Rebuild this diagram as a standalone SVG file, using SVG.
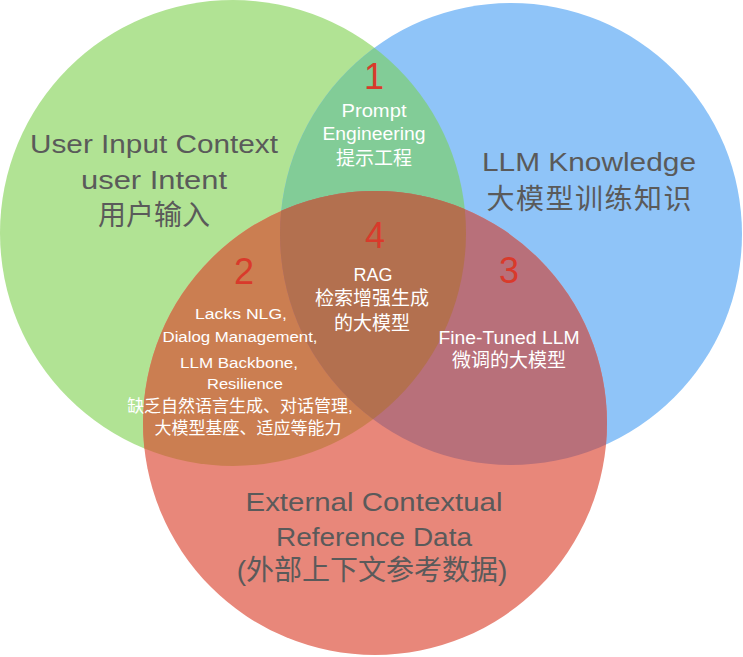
<svg xmlns="http://www.w3.org/2000/svg" width="743" height="657" viewBox="0 0 743 657">
<style>
text{font-family:"Liberation Sans","Noto Sans CJK SC",sans-serif;text-anchor:middle}
.big{fill:#5a5a5a;font-size:26px}
.bigcjk{fill:#5a5a5a;font-size:28px}
.num{fill:#d93a2b;font-size:36px}
.w{fill:#ffffff;font-size:18px}
.wcjk{fill:#ffffff;font-size:19px}
.s{fill:#ffffff;font-size:15.5px}
.scjk{fill:#ffffff;font-size:17px}
</style>
<defs>
<clipPath id="cG"><circle cx="233" cy="233" r="233"/></clipPath>
<clipPath id="cB"><circle cx="511" cy="234" r="231"/></clipPath>
</defs>
<rect width="743" height="657" fill="#ffffff"/>
<g id="circle-user-input">
<circle cx="233" cy="233" r="233" fill="#b1e394"/>
</g>
<g id="circle-llm-knowledge">
<circle cx="511" cy="234" r="231" fill="#8fc4f8"/>
</g>
<g id="circle-external-data">
<circle cx="375" cy="423" r="232" fill="#e8877a"/>
</g>
<g id="overlap-1">
<circle cx="511" cy="234" r="231" fill="#82cc97" clip-path="url(#cG)"/>
</g>
<g id="overlap-2">
<circle cx="375" cy="423" r="232" fill="#cb7e51" clip-path="url(#cG)"/>
</g>
<g id="overlap-3">
<circle cx="375" cy="423" r="232" fill="#b8707a" clip-path="url(#cB)"/>
</g>
<g id="overlap-4">
<g clip-path="url(#cG)"><circle cx="375" cy="423" r="232" fill="#b3704f" clip-path="url(#cB)"/></g>
</g>
<g id="label-user-input">
<text class="big" x="154" y="153" textLength="248" lengthAdjust="spacingAndGlyphs">User Input Context</text>
<text class="big" x="154" y="189" textLength="146" lengthAdjust="spacingAndGlyphs">user Intent</text>
<text class="bigcjk" x="154" y="225">用户输入</text>
</g>
<g id="label-llm-knowledge">
<text class="big" x="589" y="171" textLength="214" lengthAdjust="spacingAndGlyphs">LLM Knowledge</text>
<text class="bigcjk" x="589" y="209" textLength="205">大模型训练知识</text>
</g>
<g id="label-external-data">
<text class="big" x="374" y="511" textLength="257" lengthAdjust="spacingAndGlyphs">External Contextual</text>
<text class="big" x="374" y="546" textLength="196" lengthAdjust="spacingAndGlyphs">Reference Data</text>
<text class="bigcjk" x="372" y="580">(外部上下文参考数据)</text>
</g>
<g id="region-1">
<text class="num" x="374" y="89">1</text>
<text class="w" x="374" y="117" textLength="65" lengthAdjust="spacingAndGlyphs">Prompt</text>
<text class="w" x="374" y="140" textLength="103" lengthAdjust="spacingAndGlyphs">Engineering</text>
<text class="wcjk" x="374" y="165">提示工程</text>
</g>
<g id="region-4">
<text class="num" x="375" y="248">4</text>
<text class="w" x="373" y="281">RAG</text>
<text class="wcjk" x="372" y="305">检索增强生成</text>
<text class="wcjk" x="372" y="330">的大模型</text>
</g>
<g id="region-2">
<text class="num" x="244" y="284">2</text>
<text class="s" x="241" y="319" textLength="92" lengthAdjust="spacingAndGlyphs">Lacks NLG,</text>
<text class="s" x="240" y="342" textLength="155" lengthAdjust="spacingAndGlyphs">Dialog Management,</text>
<text class="s" x="239" y="368" textLength="118" lengthAdjust="spacingAndGlyphs">LLM Backbone,</text>
<text class="s" x="245" y="389" textLength="76" lengthAdjust="spacingAndGlyphs">Resilience</text>
<text class="scjk" x="240" y="412">缺乏自然语言生成、对话管理,</text>
<text class="scjk" x="248" y="434">大模型基座、适应等能力</text>
</g>
<g id="region-3">
<text class="num" x="509" y="283">3</text>
<text class="w" x="509" y="344" textLength="141" lengthAdjust="spacingAndGlyphs">Fine-Tuned LLM</text>
<text class="wcjk" x="509" y="367">微调的大模型</text>
</g>
</svg>
